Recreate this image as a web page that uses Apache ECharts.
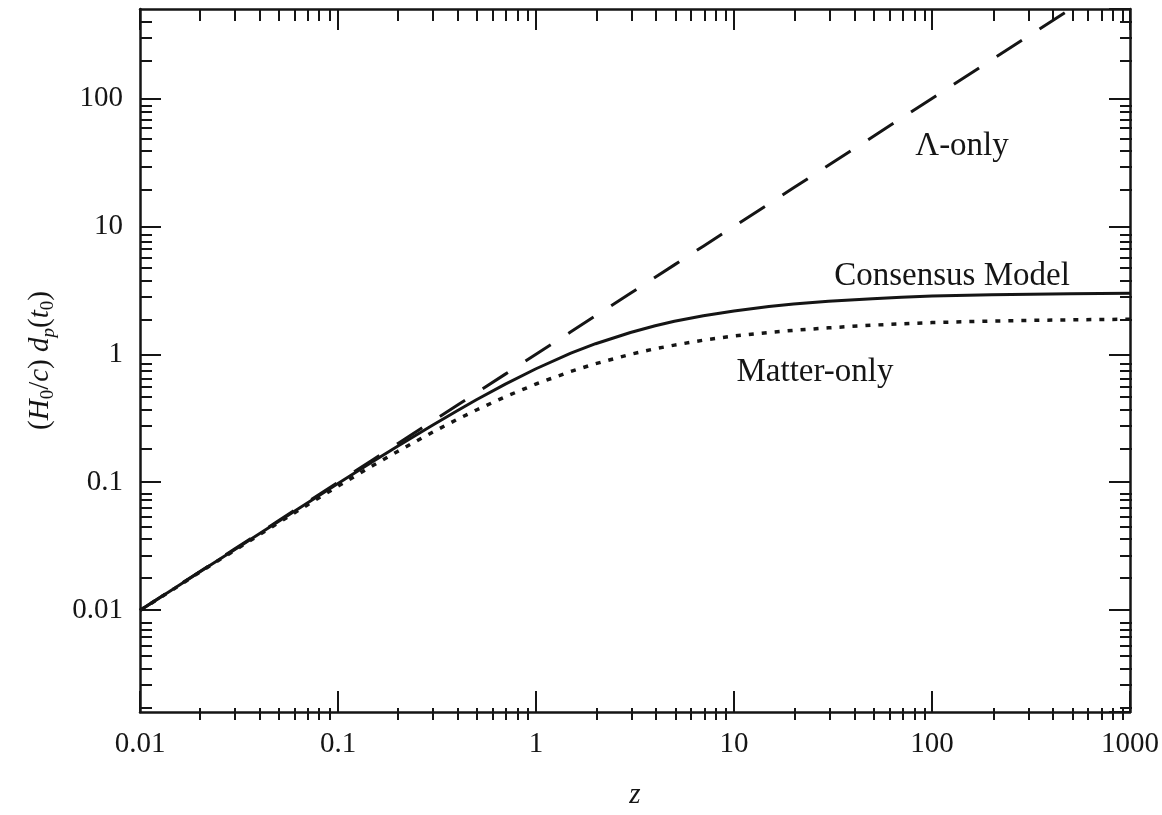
<!DOCTYPE html>
<html>
<head>
<meta charset="utf-8">
<title>Proper distance vs redshift</title>
<script src="https://cdn.jsdelivr.net/npm/echarts@6.0.0/dist/echarts.min.js"></script>
<style>
  html, body { margin: 0; padding: 0; background: #fff; }
  #main { width: 1162px; height: 815px; }
</style>
</head>
<body>
<div id="main"></div>
<script>
// redshift samples and the three curves
var zValues = [0.01, 0.015, 0.02, 0.03, 0.05, 0.07, 0.1, 0.15, 0.2, 0.3, 0.4, 0.5, 0.7, 1, 1.5, 2, 3, 4, 5, 7, 10, 15, 20, 30, 50, 70, 100, 200, 500, 1000];
var lambdaOnly = [0.01, 0.015, 0.02, 0.03, 0.05, 0.07, 0.1, 0.15, 0.2, 0.3, 0.4, 0.5, 0.7, 1, 1.5, 2, 3, 4, 5, 7, 10, 15, 20, 30, 50, 70, 100, 200, 500, 1000];
var consensusModel = [0.00996, 0.0149, 0.0199, 0.0297, 0.0494, 0.0689, 0.0977, 0.145, 0.191, 0.279, 0.362, 0.441, 0.585, 0.771, 1.02, 1.21, 1.48, 1.67, 1.81, 2.0, 2.18, 2.36, 2.47, 2.6, 2.72, 2.79, 2.85, 2.92, 2.97, 3.0];
var matterOnly = [0.00995, 0.0148, 0.0198, 0.0293, 0.0482, 0.0665, 0.0931, 0.135, 0.174, 0.246, 0.31, 0.367, 0.466, 0.586, 0.735, 0.845, 1.0, 1.106, 1.18, 1.29, 1.39, 1.48, 1.54, 1.61, 1.69, 1.73, 1.77, 1.82, 1.86, 1.88];

// tick labels
var xTickLabels = ['0.01', '0.1', '1', '10', '100', '1000'];
var yTickLabels = ['0.01', '0.1', '1', '10', '100'];

var xMin = 0.01, xMax = 1000;
var yMin = 0.0016, yMax = 500;

var ink = '#151515';
var serif = '"Liberation Serif", "Times New Roman", serif';

function pair(ys) {
  return zValues.map(function (z, i) { return [z, ys[i]]; });
}

// minor tick positions (2..9 in each decade), in log10 units
function minorTicks(lo, hi) {
  var a = Math.log10(lo), b = Math.log10(hi), out = [];
  for (var d = Math.floor(a); d <= Math.ceil(b); d++) {
    for (var k = 2; k <= 9; k++) {
      var v = d + Math.log10(k);
      if (v > a + 1e-6 && v < b - 1e-6) out.push(v);
    }
  }
  return out;
}

function labelFmt(list) {
  return function (v) {
    var s = String(+(+v).toPrecision(6));
    return list.indexOf(s) >= 0 ? s : '';
  };
}

var axisLine = { show: true, onZero: false, lineStyle: { color: ink, width: 2.5 } };
var majorTick = { show: true, inside: true, length: 21, lineStyle: { color: ink, width: 2 } };
var labelStyle = { color: ink, fontFamily: serif, fontSize: 29 };

function mirrorLog(pos, min, max) {
  return {
    type: 'log', gridIndex: 0, position: pos, min: min, max: max,
    axisLine: axisLine, axisTick: majorTick,
    axisLabel: { show: false }, splitLine: { show: false }
  };
}

function minorAxis(pos, min, max) {
  return {
    type: 'value', gridIndex: 1, position: pos,
    min: Math.log10(min), max: Math.log10(max),
    axisLine: { show: false, onZero: false },
    axisTick: { show: true, inside: true, length: 12, customValues: minorTicks(min, max),
      lineStyle: { color: ink, width: 2 } },
    axisLabel: { show: false }, splitLine: { show: false }
  };
}

var chart = echarts.init(document.getElementById('main'));
chart.setOption({
  backgroundColor: '#fff',
  animation: false,
  grid: [
    { left: 140, right: 30, top: 9, bottom: 95 },
    { left: 140, right: 30, top: 9, bottom: 95 }
  ],
  xAxis: [
    {
      type: 'log', gridIndex: 0, position: 'bottom', min: xMin, max: xMax,
      axisLine: axisLine, axisTick: majorTick, splitLine: { show: false },
      axisLabel: Object.assign({ margin: 18, formatter: labelFmt(xTickLabels) }, labelStyle),
      name: 'z', nameLocation: 'middle', nameGap: 69,
      nameTextStyle: { color: ink, fontFamily: serif, fontSize: 29, fontStyle: 'italic' }
    },
    mirrorLog('top', xMin, xMax),
    minorAxis('bottom', xMin, xMax),
    minorAxis('top', xMin, xMax)
  ],
  yAxis: [
    {
      type: 'log', gridIndex: 0, position: 'left', min: yMin, max: yMax,
      axisLine: axisLine, axisTick: majorTick, splitLine: { show: false },
      axisLabel: Object.assign({ margin: 17, showMinLabel: false, showMaxLabel: false,
        formatter: labelFmt(yTickLabels) }, labelStyle),
      name: '{n|(}{i|H}{s|0}{n|/}{i|c}{n|) }{i|d}{si|p}{n|(}{i|t}{s|0}{n|)}',
      nameLocation: 'middle', nameGap: 82, nameRotate: 90,
      nameTextStyle: {
        color: ink, fontFamily: serif, fontSize: 29,
        rich: {
          n: { color: ink, fontFamily: serif, fontSize: 29, lineHeight: 36, verticalAlign: 'middle' },
          i: { color: ink, fontFamily: serif, fontSize: 29, lineHeight: 36, verticalAlign: 'middle', fontStyle: 'italic' },
          s: { color: ink, fontFamily: serif, fontSize: 19, lineHeight: 19, verticalAlign: 'bottom' },
          si: { color: ink, fontFamily: serif, fontSize: 19, lineHeight: 19, verticalAlign: 'bottom', fontStyle: 'italic' }
        }
      }
    },
    mirrorLog('right', yMin, yMax),
    minorAxis('left', yMin, yMax),
    minorAxis('right', yMin, yMax)
  ],
  series: [
    {
      name: 'Λ-only', type: 'line', xAxisIndex: 0, yAxisIndex: 0,
      data: pair(lambdaOnly), symbol: 'none', clip: true,
      lineStyle: { color: ink, width: 3, type: [30, 21] }
    },
    {
      name: 'Consensus Model', type: 'line', xAxisIndex: 0, yAxisIndex: 0,
      data: pair(consensusModel), symbol: 'none', clip: true,
      lineStyle: { color: ink, width: 3, join: 'round' }
    },
    {
      name: 'Matter-only', type: 'line', xAxisIndex: 0, yAxisIndex: 0,
      data: pair(matterOnly), symbol: 'none', clip: true,
      lineStyle: { color: ink, width: 3.5, type: [5, 8] }
    }
  ],
  graphic: [
    { type: 'text', x: 962, y: 146, style: { text: 'Λ-only', font: '33px ' + serif, fill: ink, align: 'center', verticalAlign: 'middle' } },
    { type: 'text', x: 952, y: 276, style: { text: 'Consensus Model', font: '33px ' + serif, fill: ink, align: 'center', verticalAlign: 'middle' } },
    { type: 'text', x: 815, y: 372, style: { text: 'Matter-only', font: '33px ' + serif, fill: ink, align: 'center', verticalAlign: 'middle' } }
  ]
});
</script>
</body>
</html>
